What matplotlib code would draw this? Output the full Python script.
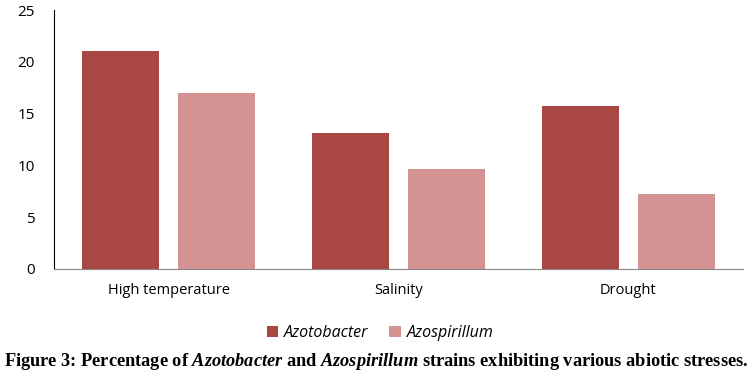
import matplotlib.pyplot as plt
import numpy as np

categories = ["High temperature", "Salinity", "Drought"]
azotobacter = [21.0, 13.1, 15.7]
azospirillum = [17.0, 9.7, 7.2]
series_names = ["Azotobacter", "Azospirillum"]
yticks = [0, 5, 10, 15, 20, 25]

plt.rcParams["mathtext.fontset"] = "custom"
plt.rcParams["mathtext.bfit"] = "Liberation Serif:bold:italic"
plt.rcParams["mathtext.rm"] = "Liberation Serif:bold"

fig = plt.figure(figsize=(7.53, 3.92), dpi=100)
ax = fig.add_axes([54 / 753, 123 / 392, 689 / 753, 259 / 392])

x = np.arange(len(categories))
width = 0.335
gap = 0.083
ax.bar(x - (width + gap) / 2, azotobacter, width, color="#A94745", label=series_names[0])
ax.bar(x + (width + gap) / 2, azospirillum, width, color="#D39393", label=series_names[1])

ax.set_xlim(-0.5, 2.5)
ax.set_ylim(0, 25)
ax.set_yticks(yticks)
ax.set_xticks(x)
ax.set_xticklabels(categories, fontsize=10.5, family="Open Sans")
for lab in ax.get_yticklabels():
    lab.set_fontsize(11)
    lab.set_family("Open Sans")
ax.tick_params(axis="both", length=0, pad=10)
ax.tick_params(axis="y", pad=14)

for side in ["top", "right"]:
    ax.spines[side].set_visible(False)
ax.spines["left"].set_color("black")
ax.spines["bottom"].set_color("#888888")

leg = fig.legend(loc="center", bbox_to_anchor=(0.505, 1 - 333 / 392), ncol=2, frameon=False,
                 prop={"family": "Open Sans", "style": "italic", "size": 11.5},
                 handlelength=0.7, handleheight=0.7, handletextpad=0.4, columnspacing=1.3)

fig.text(0.5, 1 - 362 / 392,
         r"Figure 3: Percentage of $\mathbfit{Azotobacter}$ and $\mathbfit{Azospirillum}$ strains exhibiting various abiotic stresses.",
         ha="center", va="center", fontsize=13.2, family="Liberation Serif", weight="bold")

fig.savefig("out.png", dpi=100)
